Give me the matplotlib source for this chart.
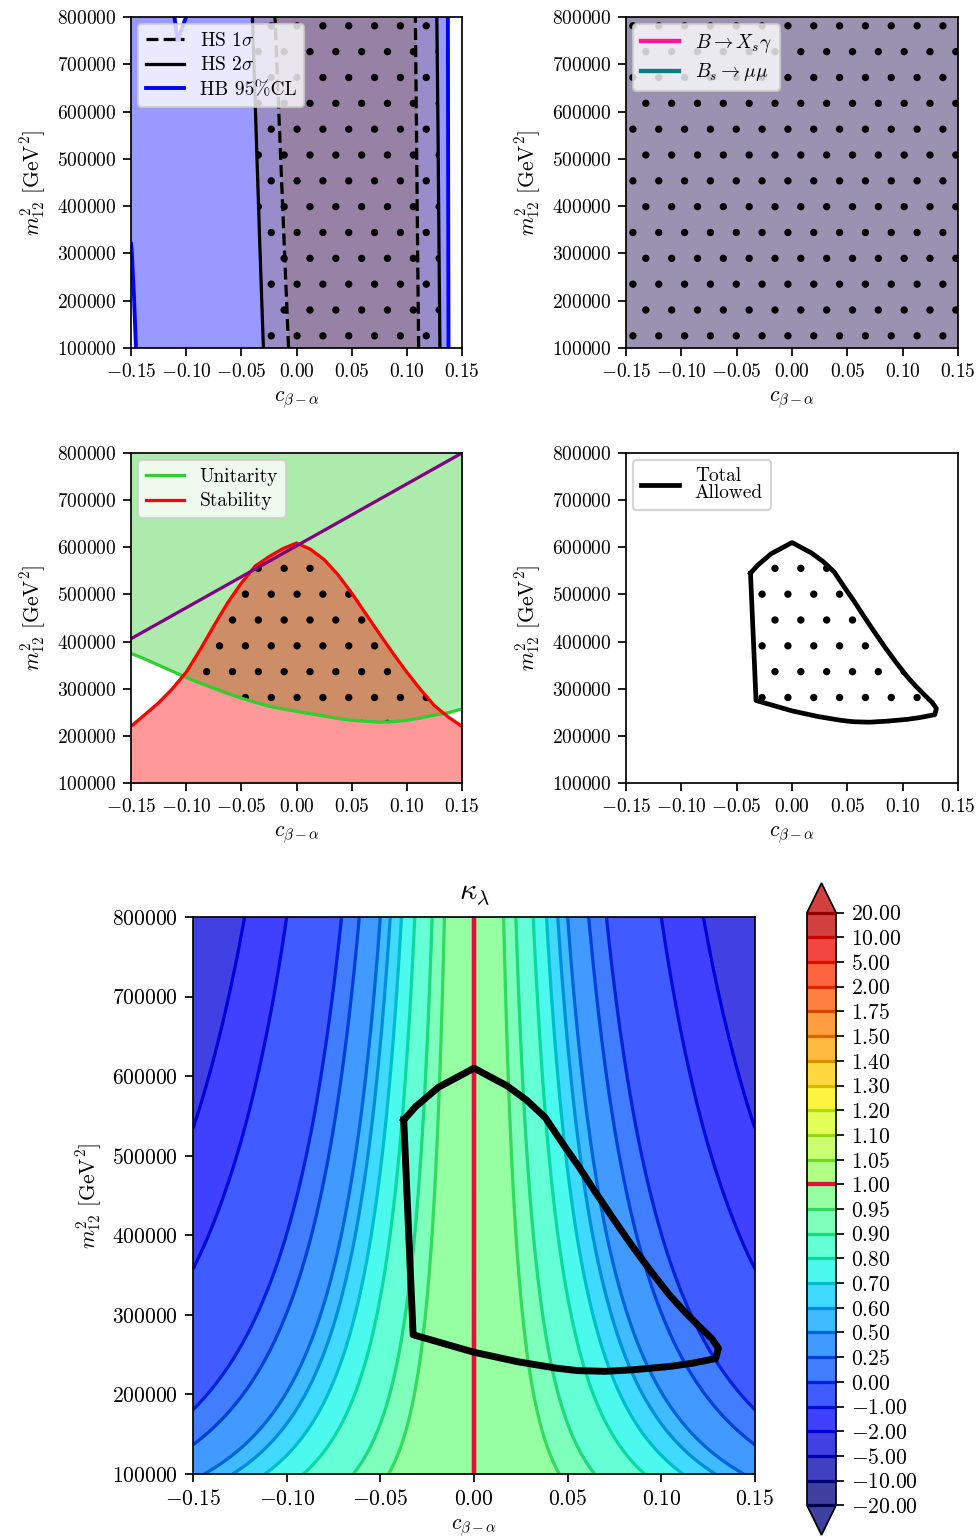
import numpy as np
import matplotlib
matplotlib.use('Agg')
import matplotlib.pyplot as plt
from matplotlib.colors import ListedColormap, BoundaryNorm
from matplotlib.ticker import FuncFormatter

plt.rcParams['font.family'] = 'serif'
plt.rcParams['font.serif'] = ['cmr10']
plt.rcParams['mathtext.fontset'] = 'cm'
plt.rcParams['axes.formatter.use_mathtext'] = True
plt.rcParams['font.size'] = 10
plt.rcParams['hatch.linewidth'] = 1.0

DPI = 155
W, H = 979, 1539

# scan range
c_range = [-0.15, 0.15]
m_range = [1e5, 8e5]

# HiggsSignals / HiggsBounds boundaries, sampled at these m12^2 values
hs_m = [1e5, 3e5, 5.5e5, 8e5]
hs2_left_c = [-0.0300, -0.0330, -0.0365, -0.0400]
hs1_left_c = [-0.0072, -0.0108, -0.0152, -0.0195]
hs1_right_c = [0.1107, 0.1098, 0.1088, 0.1077]
hs2_right_c = [0.1300, 0.1292, 0.1283, 0.1272]
hb_right_c = [0.1378, 0.1376, 0.1374, 0.1372]
hb_left_c = [-0.1455, -0.1473, -0.1494, -0.1500]
hb_left_m = [1e5, 2.08e5, 3.07e5, 3.2e5]
hb_notch_c = [-0.1106, -0.1078, -0.1001]
hb_notch_m = [8e5, 7.51e5, 8e5]

# theory constraints on a common c grid
th_c = [-0.15, -0.1375, -0.125, -0.1125, -0.1, -0.0875, -0.075, -0.0625,
        -0.05, -0.0375, -0.025, -0.0125, 0.0, 0.0125, 0.025, 0.0375, 0.05,
        0.0625, 0.075, 0.0875, 0.1, 0.1125, 0.125, 0.1375, 0.15]
stability_m = [2.20, 2.45, 2.70, 3.00, 3.35, 3.82, 4.33, 4.82, 5.24, 5.60,
               5.80, 5.97, 6.09, 5.96, 5.74, 5.42, 5.03, 4.60, 4.17, 3.75,
               3.35, 2.98, 2.64, 2.40, 2.20]
unitarity_m = [3.75, 3.63, 3.50, 3.37, 3.24, 3.12, 3.01, 2.90, 2.80, 2.71,
               2.63, 2.57, 2.52, 2.47, 2.42, 2.37, 2.33, 2.31, 2.29, 2.30,
               2.33, 2.38, 2.44, 2.49, 2.57]
pert_c = [-0.15, 0.15]
pert_m = [4.06e5, 8.0e5]

# combined allowed region
allowed_c = [-0.0375, -0.0310, -0.0190, 0.0000, 0.0175, 0.0280, 0.0380,
             0.0480, 0.0560, 0.0640, 0.0740, 0.0840, 0.0940, 0.1040, 0.1120,
             0.1200, 0.1270, 0.1305, 0.1290, 0.1160, 0.1040, 0.0850, 0.0700,
             0.0550, 0.0440, 0.0235, 0.0000, -0.0325]
allowed_m = [5.45, 5.62, 5.86, 6.10, 5.88, 5.70, 5.48, 5.13, 4.86, 4.57,
             4.22, 3.88, 3.56, 3.26, 3.05, 2.86, 2.70, 2.58, 2.45, 2.39,
             2.35, 2.31, 2.29, 2.30, 2.33, 2.41, 2.53, 2.75]

# kappa_lambda = 1 - curv * c^2, curvature per m12^2 row
kl_m = [1.0, 1.5, 2.0, 2.5, 3.0, 3.5, 4.0, 4.5, 5.0, 5.5, 6.0, 6.5, 7.0, 7.5, 8.0]
kl_curv = [24.1, 36.7, 49.3, 61.9, 74.4, 87.0, 99.6, 112.1, 124.7, 137.3,
           149.8, 162.4, 175.0, 187.6, 200.1]
kl_levels = [-20, -10, -5, -2, -1, 0, 0.25, 0.5, 0.6, 0.7, 0.8, 0.9, 0.95,
             1.0, 1.05, 1.1, 1.2, 1.3, 1.4, 1.5, 1.75, 2, 5, 10, 20]

stability_m = np.array(stability_m) * 1e5
unitarity_m = np.array(unitarity_m) * 1e5
allowed_m = np.array(allowed_m) * 1e5
kl_m = np.array(kl_m) * 1e5

ylab = r'$m_{12}^2$ [GeV$^2$]'
xlab = r'$c_{\beta-\alpha}$'


def px_axes(fig, x0, y0, x1, y1):
    return fig.add_axes([x0 / W, 1 - y1 / H, (x1 - x0) / W, (y1 - y0) / H])


def style(ax, tick_size=9):
    ax.set_xlim(c_range)
    ax.set_ylim(m_range)
    ax.set_xticks(np.linspace(-0.15, 0.15, 7))
    ax.set_yticks(np.arange(1e5, 8.01e5, 1e5))
    ax.tick_params(labelsize=tick_size)
    ax.set_xlabel(xlab)
    ax.set_ylabel(ylab)


def legend(ax):
    leg = ax.legend(loc='upper left', fontsize=9, labelspacing=0.35,
                    borderaxespad=0.35, borderpad=0.4)
    for t in leg.get_texts():
        t.set_linespacing(0.9)
    return leg


def dots(ax, x, y):
    ax.fill(x, y, facecolor='none', edgecolor='k', hatch='.', lw=0)


fig = plt.figure(figsize=(W / DPI, H / DPI), dpi=DPI)

# --- HiggsSignals / HiggsBounds ---
ax = px_axes(fig, 131, 17, 462, 348)
hb_c = [c_range[0]] + hb_notch_c + hb_right_c[::-1] + hb_left_c
hb_mm = [m_range[1]] + hb_notch_m + hs_m[::-1] + hb_left_m
ax.fill(hb_c, hb_mm, color='blue', alpha=0.4, lw=0)
hs_col = '#966e50'
ax.fill_betweenx(hs_m, hs2_left_c, hs2_right_c, color=hs_col, alpha=0.3, lw=0)
ax.fill_betweenx(hs_m, hs1_left_c, hs1_right_c, color=hs_col, alpha=0.3, lw=0)
dots(ax, hs2_left_c + hs2_right_c[::-1], hs_m + hs_m[::-1])
ax.plot(hs1_left_c, hs_m, 'k--', lw=1.5, label=r'HS $1\sigma$')
ax.plot(hs1_right_c, hs_m, 'k--', lw=1.5)
ax.plot(hs2_left_c, hs_m, 'k-', lw=1.5, label=r'HS $2\sigma$')
ax.plot(hs2_right_c, hs_m, 'k-', lw=1.5)
ax.plot(hb_right_c, hs_m, color='blue', lw=1.8, label='HB 95%CL')
ax.plot(hb_left_c, hb_left_m, color='blue', lw=1.8)
ax.plot(hb_notch_c, hb_notch_m, color='blue', lw=1.8)
style(ax)
legend(ax)

# --- flavour ---
ax = px_axes(fig, 626, 17, 958, 348)
ax.fill_between(c_range, m_range[0], m_range[1], color='deeppink', alpha=0.4,
                lw=0)
ax.fill_between(c_range, m_range[0], m_range[1], color='teal', alpha=0.4,
                lw=0)
dots(ax, [c_range[0], c_range[1], c_range[1], c_range[0]],
     [m_range[0], m_range[0], m_range[1], m_range[1]])
ax.plot([], [], color='deeppink', lw=2, label=r'$B\to X_s\gamma$')
ax.plot([], [], color='teal', lw=2, label=r'$B_s\to\mu\mu$')
style(ax)
legend(ax)

# --- theory ---
ax = px_axes(fig, 131, 453, 462, 783)
ax.fill_between(th_c, unitarity_m, m_range[1], color='limegreen', alpha=0.4,
                lw=0)
ax.fill_between(th_c, m_range[0], stability_m, color='red', alpha=0.4, lw=0)
ax.fill_between(th_c, unitarity_m, stability_m,
                where=stability_m > unitarity_m, interpolate=True,
                facecolor='none', edgecolor='k', hatch='.', lw=0)
ax.plot(th_c, unitarity_m, color='limegreen', lw=1.5, label='Unitarity')
ax.plot(th_c, stability_m, color='red', lw=1.5, label='Stability')
ax.plot(pert_c, pert_m, color='purple', lw=1.5)
style(ax)
legend(ax)

# --- combined ---
ax = px_axes(fig, 626, 453, 958, 783)
dots(ax, allowed_c, allowed_m)
ax.plot(allowed_c + allowed_c[:1], list(allowed_m) + [allowed_m[0]], 'k-',
        lw=2.2, label='Total\nAllowed')
style(ax)
legend(ax)

# --- kappa_lambda ---
ax = px_axes(fig, 193, 917, 755, 1474)
c_grid = np.linspace(c_range[0], c_range[1], 301)
C, M = np.meshgrid(c_grid, kl_m)
K = 1 - np.array(kl_curv)[:, None] * C ** 2

jet = plt.get_cmap('jet')
cmap = ListedColormap(jet(np.linspace(0, 0.94, len(kl_levels) - 1)))
norm = BoundaryNorm(kl_levels, cmap.N)
cf = ax.contourf(C, M, K, levels=kl_levels, cmap=cmap, norm=norm,
                 extend='both', alpha=0.75)

line_cols = jet(np.linspace(0, 0.94, len(kl_levels)))[:, :3] ** 1.5 * 0.85
line_cols = [tuple(c) for c in line_cols]
i_sm = kl_levels.index(1.0)
line_cols[i_sm] = 'crimson'
line_levels = list(kl_levels)
line_levels[i_sm] = 1.0 - 1e-6
line_w = [1.5] * len(line_levels)
line_w[i_sm] = 2.0
cl = ax.contour(C, M, K, levels=line_levels, colors=line_cols,
                linewidths=line_w)
ax.plot(allowed_c + allowed_c[:1], list(allowed_m) + [allowed_m[0]], 'k-',
        lw=3.2)
style(ax, tick_size=10)
ax.set_title(r'$\kappa_\lambda$', fontsize=14, pad=8)

cax = px_axes(fig, 807, 883, 836, 1535)
cb = fig.colorbar(cf, cax=cax, ticks=kl_levels,
                  format=FuncFormatter(lambda v, p: f'${v:.2f}$'))
cb.add_lines(cl)

fig.savefig('out.png', dpi=DPI)
